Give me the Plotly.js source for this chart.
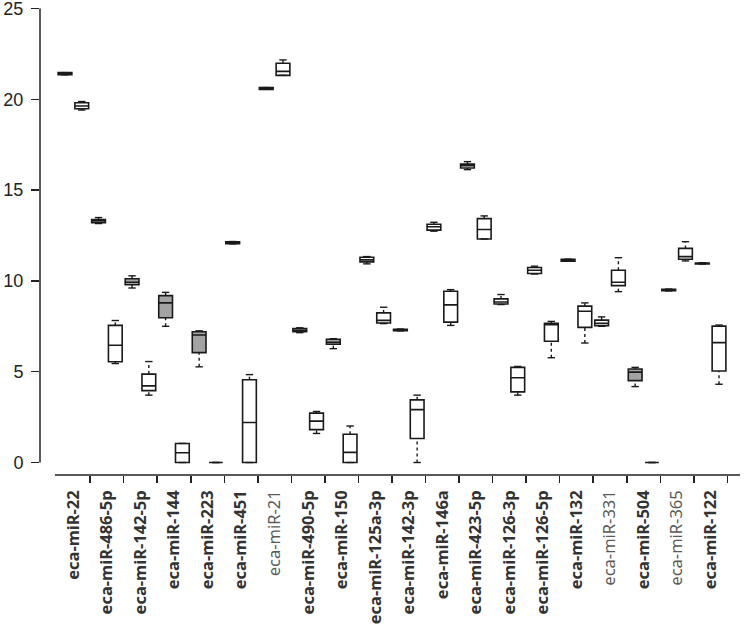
<!DOCTYPE html>
<html>
<head>
<meta charset="utf-8">
<script src="https://cdn.plot.ly/plotly-3.0.1.min.js"></script>
<style>html,body{margin:0;padding:0;background:#fff;}#chart{width:744px;height:629px;}</style>
</head>
<body>
<div id="chart"></div>
<script>
// ---- data ----
const categories = ['eca-miR-22','eca-miR-486-5p','eca-miR-142-5p','eca-miR-144','eca-miR-223','eca-miR-451','eca-miR-21','eca-miR-490-5p','eca-miR-150','eca-miR-125a-3p','eca-miR-142-3p','eca-miR-146a','eca-miR-423-5p','eca-miR-126-3p','eca-miR-126-5p','eca-miR-132','eca-miR-331','eca-miR-504','eca-miR-365','eca-miR-122'];

// first box of each pair
const lowA  = [21.35,13.16, 9.61,7.50,5.27,12.04,20.55,7.15,6.27,10.94,7.25,12.74,16.13,8.70,10.38,11.08,7.50,4.18,9.45,10.93];
const q1A   = [21.36,13.20, 9.79,7.97,6.05,12.05,20.55,7.20,6.51,11.05,7.26,12.80,16.22,8.73,10.41,11.09,7.53,4.51,9.46,10.94];
const medA  = [21.41,13.30, 9.93,8.79,7.02,12.10,20.60,7.28,6.62,11.16,7.30,12.98,16.35,8.84,10.59,11.14,7.66,4.98,9.50,10.96];
const q3A   = [21.47,13.38,10.12,9.19,7.20,12.16,20.65,7.38,6.79,11.30,7.34,13.12,16.44,9.01,10.74,11.19,7.84,5.15,9.54,10.98];
const highA = [21.47,13.49,10.28,9.37,7.25,12.17,20.65,7.42,6.82,11.34,7.35,13.23,16.57,9.25,10.81,11.20,8.02,5.24,9.55,11.00];

// second box of each pair
const lowB  = [19.41,5.45,3.71,0,0,0,21.32,1.60,0,7.65,0,7.55,12.31,3.71,5.77,6.58, 9.41,0,11.10,4.31];
const q1B   = [19.48,5.55,3.96,0,0,0,21.32,1.81,0,7.68,1.32,7.73,12.31,3.89,6.68,7.44, 9.74,0,11.19,5.04];
const medB  = [19.63,6.46,4.22,0.54,0,2.20,21.54,2.28,0.56,7.83,2.91,8.68,12.83,4.67,7.59,8.33, 9.93,0,11.34,6.60];
const q3B   = [19.81,7.55,4.87,1.05,0,4.56,21.99,2.72,1.56,8.24,3.45,9.43,13.43,5.24,7.66,8.61,10.59,0,11.79,7.51];
const highB = [19.88,7.82,5.56,1.05,0,4.84,22.17,2.81,2.01,8.55,3.71,9.52,13.58,5.29,7.77,8.79,11.28,0,12.16,7.57];

const yTicks = [0,5,10,15,20,25];

// ---- styles (kept apart from data) ----
const fillA = ['k','w','g','g','g','k','k','w','g','w','k','w','w','w','w','k','w','g','k','w'];
const fillB = ['w','w','w','w','w','w','w','w','w','w','w','w','w','w','w','w','w','w','w','w'];
const plainLabel = ['eca-miR-21','eca-miR-331','eca-miR-365'];
const FILLS = {w:'#ffffff', g:'#a3a3a3', k:'#111111'};
const LINE = '#1a1a1a';

// ---- build boxes ----
const boxes = [];
categories.forEach((c,i)=>{
  boxes.push({pos:2*i,   lo:lowA[i], q1:q1A[i], md:medA[i], q3:q3A[i], hi:highA[i], f:fillA[i]});
  boxes.push({pos:2*i+1, lo:lowB[i], q1:q1B[i], md:medB[i], q3:q3B[i], hi:highB[i], f:fillB[i]});
});

const traces = [];
['w','g','k'].forEach(f=>{
  const bs = boxes.filter(b=>b.f===f);
  if(!bs.length) return;
  traces.push({
    type:'box', x:bs.map(b=>b.pos),
    q1:bs.map(b=>b.q1), median:bs.map(b=>b.md), q3:bs.map(b=>b.q3),
    lowerfence:bs.map(b=>b.q1), upperfence:bs.map(b=>b.q3),
    boxpoints:false, width:0.82, whiskerwidth:0,
    fillcolor:FILLS[f], line:{color:LINE, width:1.6},
    showlegend:false, hoverinfo:'skip'
  });
});

// whiskers (dotted) and caps (solid)
const wx=[], wy=[], cx=[], cy=[];
const capHalf = 0.22;
boxes.forEach(b=>{
  wx.push(b.pos,b.pos,null,b.pos,b.pos,null);
  wy.push(b.q3,b.hi,null,b.lo,b.q1,null);
  cx.push(b.pos-capHalf,b.pos+capHalf,null,b.pos-capHalf,b.pos+capHalf,null);
  cy.push(b.hi,b.hi,null,b.lo,b.lo,null);
});
traces.push({type:'scatter', mode:'lines', x:wx, y:wy, line:{color:LINE,width:1.4,dash:'dot'}, showlegend:false, hoverinfo:'skip'});
traces.push({type:'scatter', mode:'lines', x:cx, y:cy, line:{color:LINE,width:1.4}, showlegend:false, hoverinfo:'skip'});

const centers = categories.map((c,i)=>2*i+0.5);
const bounds = categories.map((c,i)=>2*i+1.5);
const ticktext = categories.map(c=> plainLabel.includes(c)
  ? "<span style='color:#5a5a5a'>"+c+"</span>"
  : "<b>"+c+"</b>");

const layout = {
  width:744, height:629,
  margin:{l:40, r:0, t:8, b:154},
  paper_bgcolor:'#fff', plot_bgcolor:'#fff',
  showlegend:false,
  xaxis:{
    range:[-1.49, 40.49], showgrid:false, zeroline:false, showline:false,
    tickmode:'array', tickvals:centers, ticktext:ticktext, tickangle:-90,
    ticks:'', ticklabelstandoff:11,
    tickfont:{family:'Noto Sans, Open Sans, sans-serif', size:16.5, color:'#333'},
    minor:{tickmode:'array', tickvals:bounds, ticks:'outside', ticklen:7, tickwidth:1.5, tickcolor:'#222', showgrid:false},
    fixedrange:true
  },
  yaxis:{
    range:[-0.688, 25.03], showgrid:false, zeroline:false, showline:false,
    tickmode:'array', tickvals:yTicks, ticks:'outside', ticklen:8, tickwidth:1.5, tickcolor:'#222',
    ticklabelstandoff:4, ticklabeloverflow:'allow',
    tickfont:{family:'Liberation Sans, Arial, sans-serif', size:18, color:'#222'},
    fixedrange:true
  },
  shapes:[
    {type:'line', xref:'x', yref:'paper', x0:-0.6, x1:40.25, y0:0, y1:0, line:{color:'#222', width:1.5}},
    {type:'line', xref:'paper', yref:'y', x0:0, x1:0, y0:0, y1:25, line:{color:'#222', width:1.5}}
  ]
};

Plotly.newPlot('chart', traces, layout, {displayModeBar:false, staticPlot:true});
</script>
</body>
</html>
